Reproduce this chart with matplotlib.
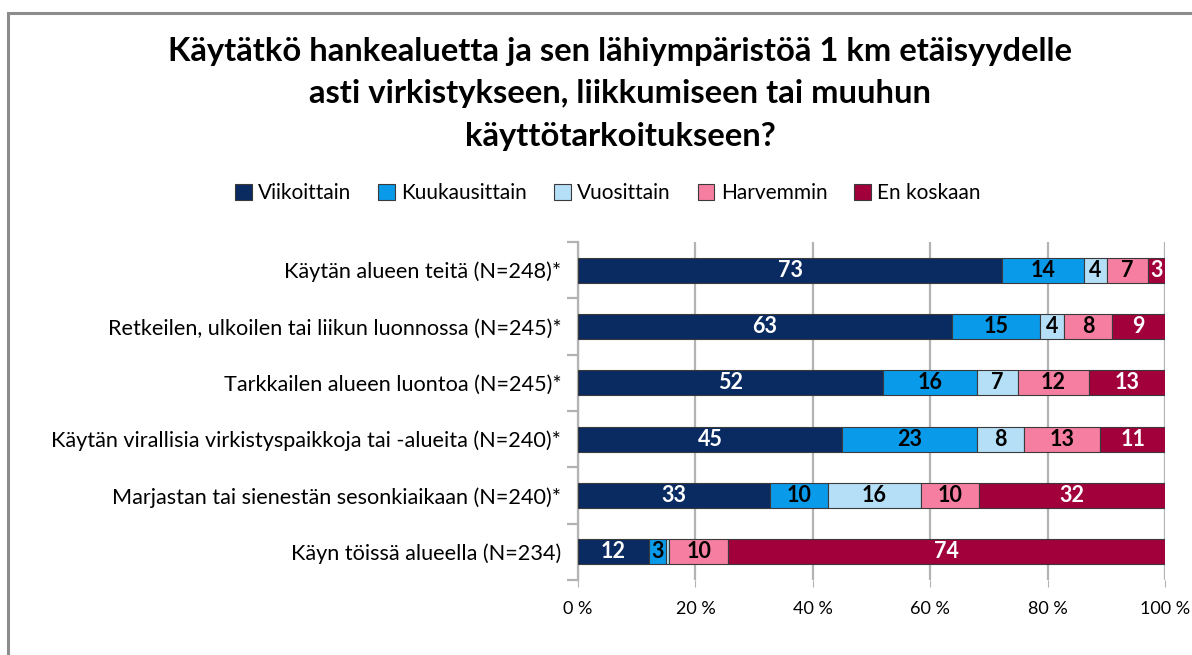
import numpy as np
import matplotlib.pyplot as plt
from matplotlib.patches import Rectangle
from matplotlib import font_manager

names = [f.name for f in font_manager.fontManager.ttflist]
narrow = 'Lato' if 'Lato' in names else 'DejaVu Sans'
plt.rcParams['font.family'] = [narrow, 'DejaVu Sans']

categories = [
    "Käytän alueen teitä (N=248)*",
    "Retkeilen, ulkoilen tai liikun luonnossa (N=245)*",
    "Tarkkailen alueen luontoa (N=245)*",
    "Käytän virallisia virkistyspaikkoja tai -alueita (N=240)*",
    "Marjastan tai sienestän sesonkiaikaan (N=240)*",
    "Käyn töissä alueella (N=234)",
]
series = ["Viikoittain", "Kuukausittain", "Vuosittain", "Harvemmin", "En koskaan"]
viikoittain = [73, 63, 52, 45, 33, 12]
kuukausittain = [14, 15, 16, 23, 10, 3]
vuosittain = [4, 4, 7, 8, 16, 0.5]
harvemmin = [7, 8, 12, 13, 10, 10]
en_koskaan = [3, 9, 13, 11, 32, 74]

colors = ["#0A2B62", "#0A9AEA", "#B4DFF7", "#F67FA1", "#A1003A"]
text_colors = ["white", "black", "black", "black", "white"]

data = np.array([viikoittain, kuukausittain, vuosittain, harvemmin, en_koskaan], dtype=float)
totals = data.sum(axis=0)
shares = data / totals * 100

fig = plt.figure(figsize=(11.92, 6.55), dpi=100)
fig.patches.append(Rectangle((8 / 1192, -0.1), 1.2, 1 - 13 / 655 + 0.1, transform=fig.transFigure,
                             fill=False, edgecolor="#8C8C8C", linewidth=2.2))

ax = fig.add_axes([578 / 1192, 1 - 580 / 655, 587 / 1192, 338 / 655])
y = np.arange(len(categories))
left = np.zeros(len(categories))
for i, name in enumerate(series):
    ax.barh(y, shares[i], left=left, height=0.44, color=colors[i], edgecolor="#3A3A3A",
            linewidth=0.8, label=name, zorder=3)
    for j in range(len(categories)):
        if data[i, j] >= 1:
            ax.text(left[j] + shares[i, j] / 2, y[j], f"{data[i, j]:.0f}", ha="center", va="center",
                    color=text_colors[i], fontsize=15.5, fontweight="bold", zorder=4)
    left += shares[i]

ax.set_xlim(0, 100)
ax.set_ylim(len(categories) - 0.5, -0.5)
ax.set_xticks(np.arange(0, 101, 20))
ax.set_xticklabels([f"{v} %" for v in range(0, 101, 20)], fontsize=13)
ax.xaxis.grid(True, color="#B3B3B3", linewidth=1.6, zorder=0)
ax.tick_params(axis="x", length=5, color="#B3B3B3", pad=10)
ax.set_yticks(y)
ax.set_yticklabels(categories, fontsize=15.6)
ax.tick_params(axis="y", length=0, pad=12)
ax.set_yticks(np.arange(-0.5, len(categories), 1), minor=True)
ax.tick_params(axis="y", which="minor", length=8, color="#B3B3B3", width=1.6)
for s in ["top", "right", "bottom"]:
    ax.spines[s].set_visible(False)
ax.spines["left"].set_color("#B3B3B3")
ax.spines["left"].set_linewidth(1.6)

fig.text(620 / 1192, 1 - 94 / 655,
         "Käytätkö hankealuetta ja sen lähiympäristöä 1 km etäisyydelle\n"
         "asti virkistykseen, liikkumiseen tai muuhun\nkäyttötarkoitukseen?",
         ha="center", va="center", fontsize=23.6, fontweight="bold", linespacing=1.55)

handles, labels = ax.get_legend_handles_labels()
fig.legend(handles, labels, loc="center", bbox_to_anchor=(608 / 1192, 1 - 193 / 655), ncol=5,
           frameon=False, fontsize=15, handlelength=0.8, handleheight=0.8, handletextpad=0.3,
           columnspacing=1.3)

fig.savefig("out.png", dpi=100)
